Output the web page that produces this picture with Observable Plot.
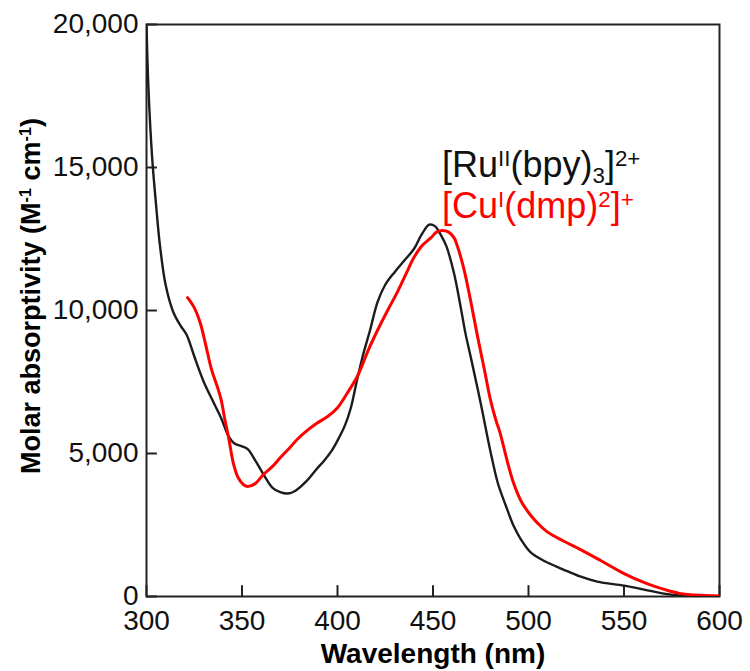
<!DOCTYPE html>
<html>
<head>
<meta charset="utf-8">
<script src="https://cdn.jsdelivr.net/npm/d3@7"></script>
<script src="https://cdn.jsdelivr.net/npm/@observablehq/plot@0.6"></script>
<style>
  html, body { margin: 0; padding: 0; background: #fff; }
  #chart svg { display: block; }
</style>
</head>
<body>
<div id="chart"></div>
<script>
// ---- data ----
const xTicks = [300, 350, 400, 450, 500, 550, 600];
const yTicks = [0, 5000, 10000, 15000, 20000];

// [Ru(bpy)3]2+ (black)
const ruWavelength = [300, 301, 303, 305, 307, 310, 314, 318, 321, 325, 330, 335, 339, 343, 346, 350, 353, 357, 361, 366, 370, 374, 378, 384, 389, 393, 397, 400, 404, 407, 410, 413, 417, 421, 425, 430, 435, 440, 444, 448, 451, 454, 457, 461, 464, 467, 470, 475, 480, 484, 488, 492, 496, 501, 508, 518, 527, 536, 550, 560, 570, 580, 590];
const ruAbs = [20000, 17800, 15300, 13700, 12300, 10900, 9950, 9450, 9150, 8400, 7500, 6800, 6250, 5600, 5350, 5250, 5150, 4750, 4300, 3800, 3650, 3600, 3700, 4050, 4450, 4750, 5100, 5450, 6000, 6600, 7500, 8350, 9300, 10300, 10900, 11350, 11750, 12150, 12650, 13000, 12950, 12650, 12250, 11300, 10300, 9200, 8300, 6750, 5100, 3950, 3200, 2500, 2000, 1550, 1250, 950, 700, 520, 380, 250, 110, 30, 0];

// [Cu(dmp)2]+ (red)
const cuWavelength = [321.5, 325, 328, 331, 334, 337, 339, 341, 343, 345.5, 348, 351, 353, 357, 361, 366, 370, 375, 379, 384, 389, 395, 400, 405, 410, 413, 416, 422, 427, 431, 436, 440, 444, 449, 452, 455, 458, 461, 463, 466, 468, 471, 473, 477, 480, 483, 485, 489, 492, 496, 501, 505, 510, 518, 527, 538, 550, 562, 571, 579, 590, 600];
const cuAbs = [10450, 10100, 9600, 8800, 7950, 7350, 6900, 6200, 5550, 4650, 4150, 3900, 3850, 3950, 4250, 4550, 4850, 5200, 5500, 5800, 6050, 6300, 6600, 7100, 7650, 8100, 8600, 9450, 10100, 10600, 11300, 11850, 12250, 12550, 12750, 12800, 12750, 12550, 12200, 11500, 10900, 9900, 9200, 7900, 6900, 6150, 5750, 4700, 4000, 3350, 2850, 2550, 2250, 1950, 1650, 1250, 800, 450, 250, 110, 40, 20];

const ru = ruWavelength.map((w, i) => ({w, a: ruAbs[i]}));
const cu = cuWavelength.map((w, i) => ({w, a: cuAbs[i]}));

const FONT = "'Liberation Sans', Arial, Helvetica, sans-serif";

const chart = Plot.plot({
  width: 750,
  height: 671,
  marginLeft: 146,
  marginRight: 31,
  marginTop: 24,
  marginBottom: 75,
  style: {fontFamily: FONT, fontSize: "28px", color: "#000", background: "#fff", overflow: "visible"},
  x: {domain: [300, 600]},
  y: {domain: [0, 20000]},
  marks: [
    Plot.frame({stroke: "#222", strokeWidth: 2}),
    // inward tick marks (length expressed in data units ≈ 11px)
    Plot.ruleX(xTicks, {x: d => d, y1: 0, y2: 380, stroke: "#222", strokeWidth: 2}),
    Plot.ruleY(yTicks, {y: d => d, x1: 300, x2: 305.7, stroke: "#222", strokeWidth: 2}),
    // tick labels
    Plot.axisX({ticks: xTicks, tickSize: 0, tickPadding: 14, tickFormat: d => String(d), label: null, fill: "#111"}),
    Plot.axisY({ticks: yTicks, tickSize: 0, tickPadding: 8, tickFormat: d3.format(","), label: null, fill: "#111"}),
    Plot.line(ru, {x: "w", y: "a", stroke: "#1c1c1c", strokeWidth: 2.4, curve: "catmull-rom", clip: true}),
    Plot.line(cu, {x: "w", y: "a", stroke: "#ff0000", strokeWidth: 3, curve: "catmull-rom", clip: true})
  ]
});

document.getElementById("chart").appendChild(chart);

const svg = d3.select(chart);

// ---- labels with superscripts/subscripts ----
function richText(parent, x, y, segments, opts) {
  const t = parent.append("text")
    .attr("x", x).attr("y", y)
    .attr("font-family", FONT)
    .attr("font-size", opts.size)
    .attr("font-weight", opts.weight || "normal")
    .attr("fill", opts.fill || "#000")
    .attr("text-anchor", opts.anchor || "start");
  if (opts.transform) t.attr("transform", opts.transform);
  let shift = 0;
  segments.forEach(([txt, kind]) => {
    const target = kind === "sup" ? -opts.supShift : kind === "sub" ? opts.subShift : 0;
    const s = t.append("tspan").text(txt).attr("dy", target - shift);
    if (kind) s.attr("font-size", opts.size * (opts.scale || 0.62));
    shift = target;
  });
  return t;
}

// X axis title
svg.append("text")
  .attr("x", 433).attr("y", 663)
  .attr("text-anchor", "middle")
  .attr("font-family", FONT).attr("font-size", 28).attr("font-weight", "bold")
  .text("Wavelength (nm)");

// Y axis title
richText(svg, 0, 0, [
  ["Molar absorptivity (M"], ["-1", "sup"], [" cm"], ["-1", "sup"], [")"]
], {size: 27, weight: "bold", anchor: "middle", supShift: 9, subShift: 5, scale: 0.6, transform: "translate(40,296) rotate(-90)"});

// Legend
richText(svg, 442, 177, [
  ["[Ru"], ["II", "sup"], ["(bpy)"], ["3", "sub"], ["]"], ["2+", "sup"]
], {size: 36, fill: "#111", supShift: 11, subShift: 6, scale: 0.62});

richText(svg, 442, 218, [
  ["[Cu"], ["I", "sup"], ["(dmp)"], ["2", "sup"], ["]"], ["+", "sup"]
], {size: 36, fill: "#ff0000", supShift: 11, subShift: 6, scale: 0.62});
</script>
</body>
</html>
